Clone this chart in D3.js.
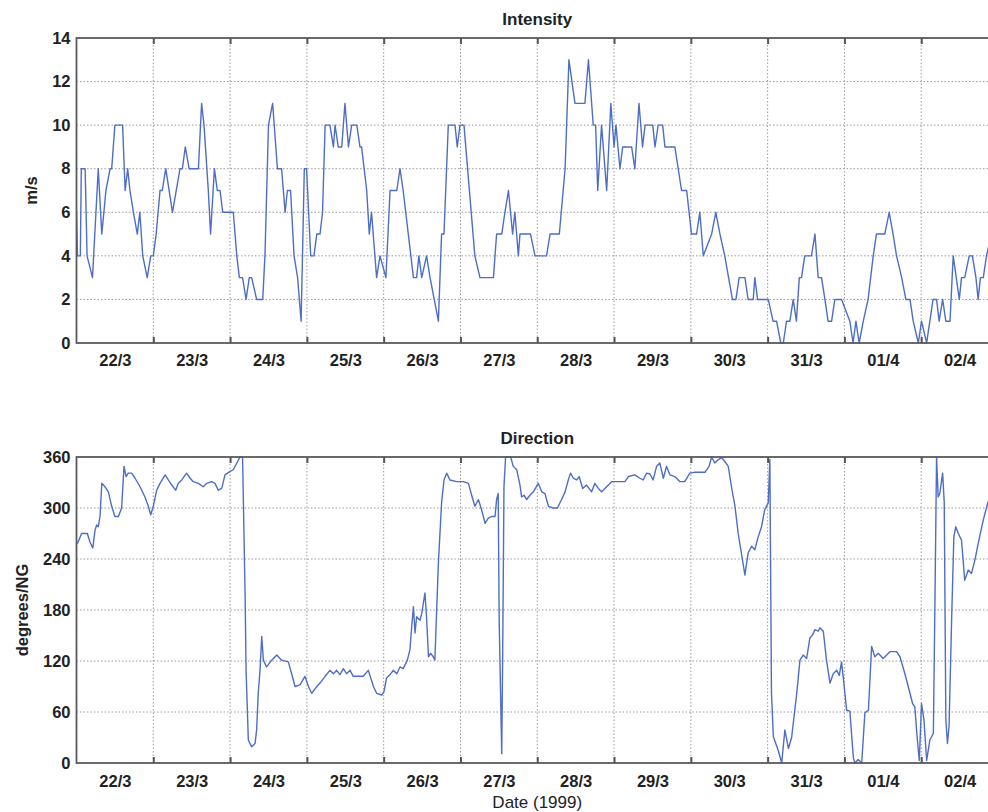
<!DOCTYPE html>
<html><head><meta charset="utf-8">
<script src="https://cdn.jsdelivr.net/npm/d3@7"></script>
<style>body{margin:0;background:#fff}svg{display:block}text{font-family:"Liberation Sans",Arial,sans-serif;font-weight:bold;fill:#222}</style>
</head><body>
<script>
// ---- data ----
const dayLabels = ["22/3","23/3","24/3","25/3","26/3","27/3","28/3","29/3","30/3","31/3","01/4","02/4"];
const intensityTicks = [0,2,4,6,8,10,12,14];
const directionTicks = [0,60,120,180,240,300,360];
// hours since 22/3 00:00
const intensityHours = [0,0.3,1.2,1.5,2.7,3.0,3.3,5.0,6.8,7.9,9.2,10.5,11.0,12.0,14.4,15.2,16.0,16.7,17.8,19.0,19.8,20.7,22.1,23.2,24.0,24.9,26.1,26.8,27.9,30.0,32.35,33.1,34.0,35.2,38.1,39.1,39.85,41.2,41.9,43.1,44.0,44.85,45.7,49.0,50.1,50.9,51.9,53.0,54.0,54.75,56.3,58.2,58.9,60.0,61.3,62.8,64.1,65.2,65.9,66.9,68.0,69.1,70.2,71.2,71.9,73.2,74.2,75.1,76.1,76.9,77.7,79.2,80.3,80.8,81.8,82.9,83.9,85.0,86.0,87.6,88.6,89.1,90.7,91.5,92.2,93.8,94.85,96.7,98.0,100.1,101.1,102.1,103.7,105.3,106.3,107.0,107.9,109.4,110.5,113.1,114.1,114.85,116.2,118.3,119.0,119.85,121.1,124.5,126.1,130.3,131.3,132.9,133.9,135.0,136.3,137.0,138.1,138.6,141.9,143.3,146.9,148.0,150.9,152.7,153.9,155.8,158.9,160.0,161.5,162.25,162.9,164.1,165.7,167.0,168.0,168.6,169.85,170.7,173.5,174.5,175.8,176.9,177.7,180.1,180.8,181.8,183.2,183.9,187.0,189.1,190.7,192.2,193.8,194.8,195.9,198.5,199.8,201.1,202.6,205.0,206.1,207.1,208.9,209.9,211.5,212.0,212.85,216.2,217.7,218.8,220.1,220.9,221.9,222.95,224.0,225.0,225.9,226.6,227.6,229.7,230.8,231.8,232.85,233.9,234.9,236.0,237.0,239.1,241.7,242.7,243.6,244.6,245.9,247.4,249.0,250.0,252.6,254.0,255.2,256.3,257.9,259.2,260.5,261.5,263.1,264.1,265.7,266.7,267.7,268.8,269.6,270.7,271.7,273.0,274.0,275.9,276.6,277.6,279.0,280.0,281.1,281.8,282.5,283.4,284.4,286.0];
const intensityValues = [6,4,4,8,8,6,4,3,8,5,7,8,8,10,10,7,8,7,6,5,6,4,3,4,4,5,7,7,8,6,8,8,9,8,8,11,10,7,5,8,7,7,6,6,4,3,3,2,3,3,2,2,4,10,11,8,8,6,7,7,4,3,1,8,8,4,4,5,5,6,10,10,9,10,9,9,11,9,10,10,9,9,7,5,6,3,4,3,7,7,8,7,5,3,3,4,3,4,3,1,5,5,10,10,9,10,10,4,3,3,5,5,6,7,5,6,4,5,5,4,4,5,5,8,13,11,11,13,10,10,7,10,7,11,9,10,8,9,9,8,11,9,10,10,9,10,10,9,9,7,7,5,5,6,4,5,6,5,4,2,2,3,3,2,2,3,2,2,1,1,0,0,1,1,2,1,3,3,4,4,5,3,3,2,1,1,2,2,1,0,1,0,1,2,4,5,5,6,5,4,3,2,2,1,0,1,0,1,2,2,1,2,1,1,4,2,3,3,4,4,3,2,3,3,4,5];
const directionHours = [0.27,1.6,3.4,4.2,5.1,5.8,6.3,6.8,7.35,7.9,8.9,9.95,11.0,12.0,13.1,14.1,14.85,15.5,16.2,17.25,18.3,19.85,21.4,22.45,23.2,24.0,25.06,26.1,27.7,28.7,29.75,31.0,31.8,32.9,34.4,35.5,36.5,38.1,39.6,40.7,42.2,43.3,44.3,45.4,46.4,48.0,49.0,50.1,51.1,51.9,52.7,53.0,53.7,54.75,55.8,56.3,56.8,57.35,57.9,58.4,59.4,61.0,62.6,64.1,66.2,67.25,68.3,69.85,71.4,72.5,73.5,75.1,76.1,77.7,79.2,80.3,81.3,82.35,83.4,84.4,85.5,86.5,88.1,89.6,91.2,92.8,93.8,95.4,96.1,96.9,98.0,99.0,100.1,101.1,102.1,103.4,104.2,104.75,105.3,105.8,106.3,107.35,107.9,108.9,109.4,110.0,110.7,111.5,112.0,113.1,114.1,114.85,115.7,116.7,118.8,120.9,122.5,123.5,124.5,125.6,126.6,127.7,128.7,129.75,130.8,131.3,131.8,132.1,132.9,133.2,133.6,134.1,134.4,135.7,136.5,137.6,138.6,139.1,139.85,140.7,141.7,142.8,144.3,145.4,146.4,147.5,149.0,150.3,151.6,152.7,153.7,154.4,155.3,156.3,157.1,158.2,159.4,161.0,162.0,163.1,164.1,165.7,167.25,169.3,171.4,172.5,174.5,176.1,177.1,178.2,179.2,180.2,181.3,182.3,183.4,184.4,185.45,187.0,188.6,190.1,191.7,193.3,194.8,196.4,197.7,198.5,199.5,200.6,201.6,202.6,203.7,204.7,205.8,206.8,207.8,208.9,209.9,211.0,212.0,213.05,214.1,215.1,216.2,216.7,217.2,217.8,219.3,220.4,221.4,222.5,223.5,225.1,226.1,227.1,228.2,229.2,230.1,230.8,231.8,232.35,233.4,234.4,235.5,236.5,237.6,238.4,239.1,239.6,240.7,241.7,242.8,243.3,244.3,245.4,246.4,247.5,248.5,249.5,250.6,252.1,253.2,254.2,256.3,257.35,258.9,260.5,261.3,262.0,262.8,263.4,264.1,264.85,265.7,266.7,267.8,268.3,268.8,269.3,269.8,270.7,271.2,271.7,272.2,272.7,273.5,274.2,274.8,275.6,276.6,277.6,278.7,279.7,280.8,281.8,283.4,284.8,288.0];
const directionValues = [258,270,270,260,253,274,280,278,290,329,325,319,302,290,290,300,349,337,341,341,335,325,313,302,292,302,321,329,339,333,327,321,329,333,341,335,331,329,325,329,331,329,321,323,339,343,345,353,360,360,196,109,27,19,23,39,82,109,149,121,113,121,127,121,119,105,90,92,102,90,82,90,94,102,109,105,109,104,111,105,109,102,102,102,109,90,82,80,84,100,104,109,105,113,111,121,133,160,184,153,172,168,176,200,172,125,129,125,121,235,306,333,341,333,331,331,329,315,302,310,298,282,288,290,290,310,317,168,11,129,325,360,360,360,349,345,327,313,315,310,315,319,329,319,317,302,300,300,310,319,333,341,335,333,337,323,327,319,329,323,319,325,331,331,331,337,339,335,333,341,340,333,349,353,335,349,339,337,331,331,341,342,342,342,349,360,353,357,359,355,349,325,302,270,247,221,247,255,251,266,278,298,306,357,82,31,15,0,39,17,30,82,121,127,123,147,151,157,155,159,155,121,94,105,109,103,119,102,62,61,6,0,4,0,59,62,137,125,129,123,127,131,131,125,105,82,70,66,27,3,70,51,3,27,35,192,360,313,317,341,306,51,23,43,168,266,278,270,262,215,227,223,239,258,286,306,330];

// ---- layout ----
const W = 988, H = 812;
const svg = d3.select("body").append("svg").attr("width", W).attr("height", H);
const x = d3.scaleLinear().domain([0, 288]).range([76.5, 998]);
const lineColor = "#4d6ec6";
const dayBounds = d3.range(0, 289, 24);
const noonHours = dayLabels.map((d, i) => i * 24 + 12);
const FS = 16.5;

function panel(top, bottom, yMax, ticks, hours, values, title, ylab, ylabX, labPad, showDate) {
  const y = d3.scaleLinear().domain([0, yMax]).range([bottom, top]);
  const g = svg.append("g");
  const clipId = "clip" + top;
  svg.append("clipPath").attr("id", clipId).append("rect")
    .attr("x", x(0)).attr("y", top - 1).attr("width", x(288) - x(0)).attr("height", bottom - top + 2);
  // grid
  g.append("g").selectAll("line").data(ticks.filter(t => t > 0 && t < yMax)).join("line")
    .attr("x1", x(0)).attr("x2", x(288)).attr("y1", d => y(d)).attr("y2", d => y(d))
    .attr("stroke", "#9a9a9a").attr("stroke-width", 1).attr("stroke-dasharray", "1.5,2");
  g.append("g").selectAll("line").data(dayBounds.filter(d => d > 0 && d < 288)).join("line")
    .attr("x1", d => x(d)).attr("x2", d => x(d)).attr("y1", top).attr("y2", bottom)
    .attr("stroke", "#9a9a9a").attr("stroke-width", 1).attr("stroke-dasharray", "1.5,2");
  // data line
  const data = hours.map((h, i) => [h, values[i]]);
  g.append("path").datum(data).attr("clip-path", `url(#${clipId})`)
    .attr("fill", "none").attr("stroke", lineColor).attr("stroke-width", 1.4)
    .attr("stroke-linejoin", "round")
    .attr("d", d3.line().x(d => x(d[0])).y(d => y(d[1])));
  // frame
  g.append("rect").attr("x", x(0)).attr("y", top).attr("width", x(288) - x(0)).attr("height", bottom - top)
    .attr("fill", "none").attr("stroke", "#5a5a5a").attr("stroke-width", 1.8);
  // inward day ticks (bottom and top)
  g.append("g").attr("transform", `translate(0,${bottom})`)
    .call(d3.axisBottom(x).tickValues(dayBounds.slice(1, -1)).tickSize(-6).tickFormat(""))
    .call(s => { s.select(".domain").remove(); s.selectAll("line").attr("stroke", "#555").attr("stroke-width", 2); });
  g.append("g").attr("transform", `translate(0,${top})`)
    .call(d3.axisTop(x).tickValues(dayBounds.slice(1, -1)).tickSize(-6).tickFormat(""))
    .call(s => { s.select(".domain").remove(); s.selectAll("line").attr("stroke", "#555").attr("stroke-width", 2); });
  // day labels at noon
  g.append("g").attr("transform", `translate(0,${bottom})`)
    .call(d3.axisBottom(x).tickValues(noonHours).tickSize(0).tickPadding(labPad).tickFormat((d, i) => dayLabels[i]))
    .call(s => { s.select(".domain").remove(); s.selectAll("text").attr("font-size", FS).attr("fill", "#222"); });
  // y axis labels
  g.append("g").attr("transform", `translate(${x(0)},0)`)
    .call(d3.axisLeft(y).tickValues(ticks).tickSize(0).tickPadding(6))
    .call(s => { s.select(".domain").remove(); s.selectAll("text").attr("font-size", FS).attr("fill", "#222"); });
  // title
  svg.append("text").attr("x", (x(0) + x(288)) / 2).attr("y", top - 13).attr("text-anchor", "middle")
    .attr("font-size", 17).text(title);
  svg.append("text").attr("transform", `translate(${ylabX},${(top + bottom) / 2}) rotate(-90)`)
    .attr("text-anchor", "middle").attr("dy", "0.35em").attr("font-size", FS).text(ylab);
  if (showDate) {
    svg.append("text").attr("x", (x(0) + x(288)) / 2).attr("y", bottom + 45).attr("text-anchor", "middle")
      .attr("font-size", 17).style("font-weight", "normal").text("Date (1999)");
  }
}

panel(38, 343, 14, intensityTicks, intensityHours, intensityValues, "Intensity", "m/s", 31, 11, false);
panel(457, 763, 360, directionTicks, directionHours, directionValues, "Direction", "degrees/NG", 22, 12, true);
</script>
</body></html>
